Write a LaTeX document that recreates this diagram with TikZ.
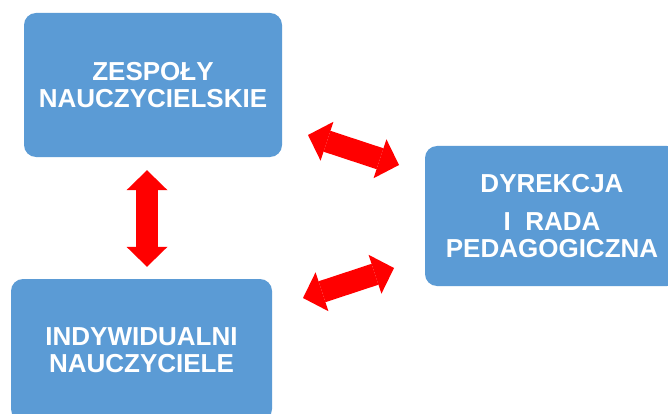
\documentclass[tikz,border=0pt]{standalone}
\usepackage{fontspec}
\setmainfont{Liberation Sans}
\usetikzlibrary{arrows.meta}
\definecolor{boxblue}{HTML}{5B9BD5}
\definecolor{arrred}{HTML}{FF0000}
\begin{document}
\begin{tikzpicture}[x=1pt,y=-1pt,
  box/.style={fill=boxblue, draw=none, rounded corners=12pt, inner sep=0pt,
    align=center, text=white, font=\fontsize{26}{27}\selectfont\bfseries},
  link/.style={draw=arrred, line width=22pt, {Triangle[length=20pt,width=41pt,line width=0pt]}-{Triangle[length=20pt,width=41pt,line width=0pt]}}]
\useasboundingbox (0,0) rectangle (668,414);
\clip (0,0) rectangle (668,414);
\fill[white] (0,0) rectangle (668,414);
\node[box, minimum width=258pt, minimum height=144pt] (zesp) at (153,85)
  {ZESPOŁY\\NAUCZYCIELSKIE};
\node[box, minimum width=254pt, minimum height=140pt] (dyr) at (552,216)
  {DYREKCJA\\[11pt]I\ \ RADA\\PEDAGOGICZNA};
\node[box, minimum width=261pt, minimum height=142pt] (ind) at (141.5,350)
  {INDYWIDUALNI\\NAUCZYCIELE};
\coordinate (a1) at (308,135);
\coordinate (a2) at (399,165);
\coordinate (b1) at (303,298);
\coordinate (b2) at (394,268);
\draw[link, shorten <=13pt, shorten >=12pt] (zesp.south -| 147,0) -- (ind.north -| 147,0);
\draw[link] (a1) -- (a2);
\draw[link] (b1) -- (b2);
\end{tikzpicture}
\end{document}
